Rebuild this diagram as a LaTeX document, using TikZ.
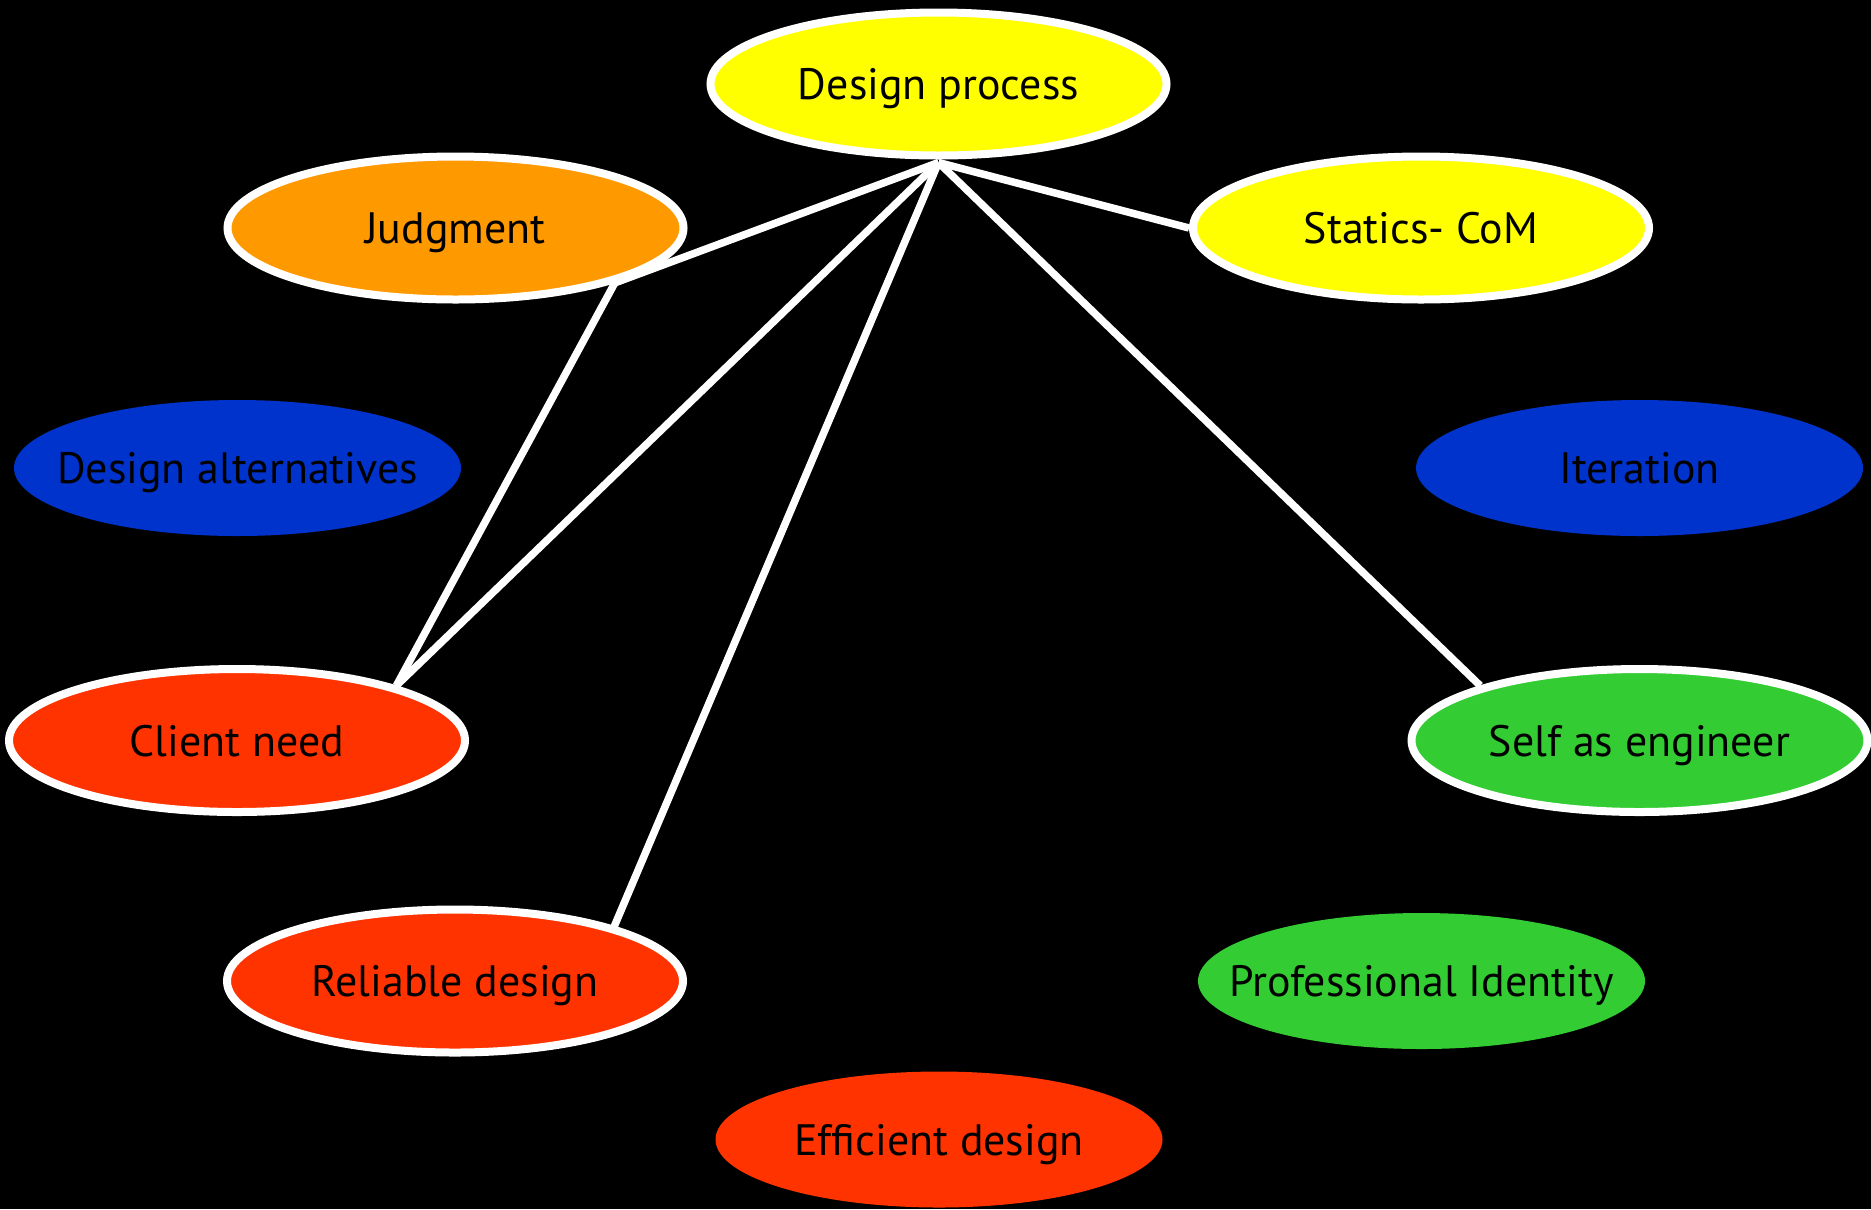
\documentclass[tikz,border=0pt]{standalone}
\usepackage{fontspec}
\setmainfont{PT Sans}
\usetikzlibrary{shapes.geometric}
\usetikzlibrary{positioning}
\definecolor{dpyellow}{HTML}{FFFF00}
\definecolor{dporange}{HTML}{FF9900}
\definecolor{dpblue}{HTML}{0033CC}
\definecolor{dpred}{HTML}{FF3300}
\definecolor{dpgreen}{HTML}{33CC33}
\tikzset {
  bubble/.style = {
    ellipse,
    inner xsep = -1.2cm,
    inner ysep = 0,
    text depth = 0pt,
    text = black,
    font = \fontsize{12.5}{15}\selectfont
  },
  % bubble with a white rim
  ringed/.style = {
    bubble,
    draw = white,
    line width = 0.8mm,
    minimum width = 4.56cm,
    minimum height = 1.43cm
  },
  % bubble without a rim
  flat/.style = {
    bubble,
    minimum width = 4.47cm,
    minimum height = 1.36cm
  },
  link/.style = {
    draw = white,
    line width = 0.75mm
  }
}
\begin{document}
\begin{tikzpicture}
    \fill[black] (0,0) rectangle (18.71,-12.09);
    \useasboundingbox (0,0) rectangle (18.71,-12.09);

    \node[ringed, fill=dpyellow] (process) at (9.385,-0.84) {Design process};

    \node[ringed, fill=dporange] (judgment) at (4.555,-2.28) {Judgment};
    \node[ringed, fill=dpyellow] (statics) at (14.21,-2.28) {Statics- CoM};

    \node[flat, fill=dpblue] (alternatives) at (2.375,-4.68) {Design alternatives};
    \node[flat, fill=dpblue] (iteration) at (16.395,-4.68) {Iteration};

    \node[ringed, fill=dpred] (client) at (2.37,-7.405) {Client need};
    \node[ringed, fill=dpgreen] (self) at (16.395,-7.405) {Self as engineer};

    \node[ringed, fill=dpred] (reliable) at (4.55,-9.81) {Reliable design};
    \node[flat, fill=dpgreen] (identity) at (14.215,-9.81) {Professional Identity};

    \node[flat, fill=dpred] (efficient) at (9.39,-11.395) {Efficient design};

    \coordinate[below=0.3mm of process.south] (hub);

    \draw [link] (hub) -- (statics.west);
    \draw [link] (hub) -- (judgment.-19) -- (client.19);
    \draw [link] (hub) -- (client.19);
    \draw [link] (hub) -- (reliable.19);
    \draw [link] (hub) -- (self.161);
  \end{tikzpicture}
\end{document}
